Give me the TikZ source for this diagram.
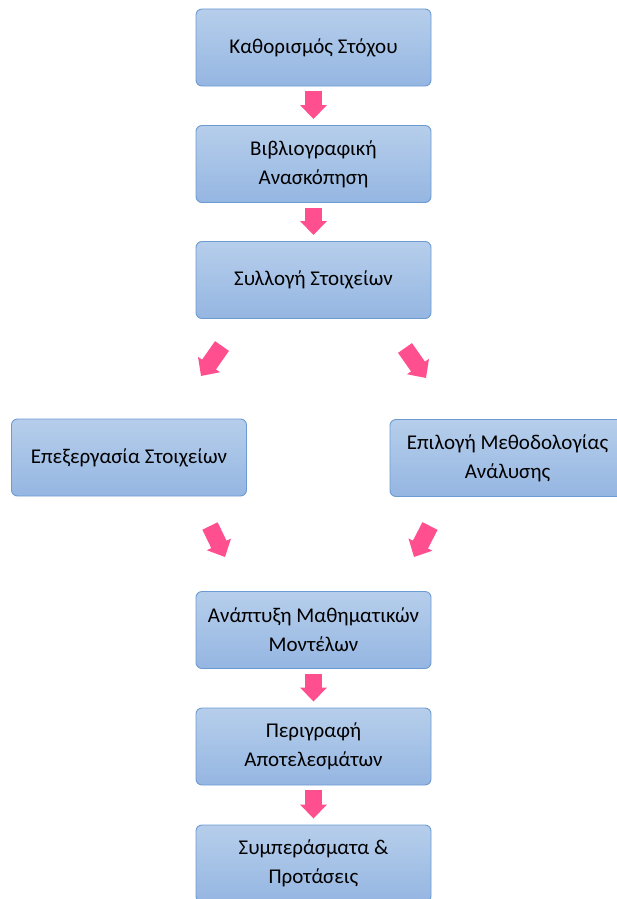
\documentclass[tikz,border=0pt]{standalone}
\usepackage{fontspec}
\setmainfont{Carlito}
\usetikzlibrary{arrows.meta}

\definecolor{boxtop}{RGB}{182,206,235}
\definecolor{boxbot}{RGB}{149,182,226}
\definecolor{boxline}{RGB}{108,155,210}
\definecolor{flowpink}{RGB}{255,79,143}

\begin{document}
\begin{tikzpicture}[x=1pt, y=-1pt,
  stage/.style={draw=boxline, line width=0.9pt, rounded corners=6pt,
    top color=boxtop, bottom color=boxbot,
    minimum width=235pt, minimum height=77pt, inner sep=0pt,
    align=center, font=\fontsize{21}{29}\selectfont},
  flow/.style={flowpink, line width=17pt,
    -{Triangle[length=14pt, width=26pt]}},
  gapflow/.style={flow, shorten <=5pt, shorten >=6pt}]

\useasboundingbox (0,0) rectangle (616,899);

% main column
\node [stage] (goal)   at (313.5, 47.5) {Καθορισμός Στόχου};
\node [stage] (review) at (313.5, 164)   {Βιβλιογραφική\\Ανασκόπηση};
\node [stage] (collect) at (313.5, 280)  {Συλλογή Στοιχείων};

% the two branches
\node [stage] (process) at (129, 457.5)  {Επεξεργασία Στοιχείων};
\node [stage] (method)  at (507.5, 458)  {Επιλογή Μεθοδολογίας\\Ανάλυσης};

% back to one column
\node [stage] (models)  at (313.5, 630)   {Ανάπτυξη Μαθηματικών\\Μοντέλων};
\node [stage] (results) at (313.5, 746.5) {Περιγραφή\\Αποτελεσμάτων};
\node [stage] (conclude) at (313.5, 863.5) {Συμπεράσματα \&\\Προτάσεις};

% ends of the slanted arrows
\coordinate (splitL0) at (222, 346);
\coordinate (splitL1) at (201, 376);
\coordinate (splitR0) at (405, 348);
\coordinate (splitR1) at (426, 378);
\coordinate (joinL0)  at (210, 526);
\coordinate (joinL1)  at (225, 557);
\coordinate (joinR0)  at (430, 526);
\coordinate (joinR1)  at (414, 557);

\draw [gapflow] (goal.south) -- (review.north);
\draw [gapflow] (review.south) -- (collect.north);

\draw [flow] (splitL0) -- (splitL1);
\draw [flow] (splitR0) -- (splitR1);
\draw [flow] (joinL0) -- (joinL1);
\draw [flow] (joinR0) -- (joinR1);

\draw [gapflow] (models.south) -- (results.north);
\draw [gapflow] (results.south) -- (conclude.north);

\end{tikzpicture}
\end{document}
